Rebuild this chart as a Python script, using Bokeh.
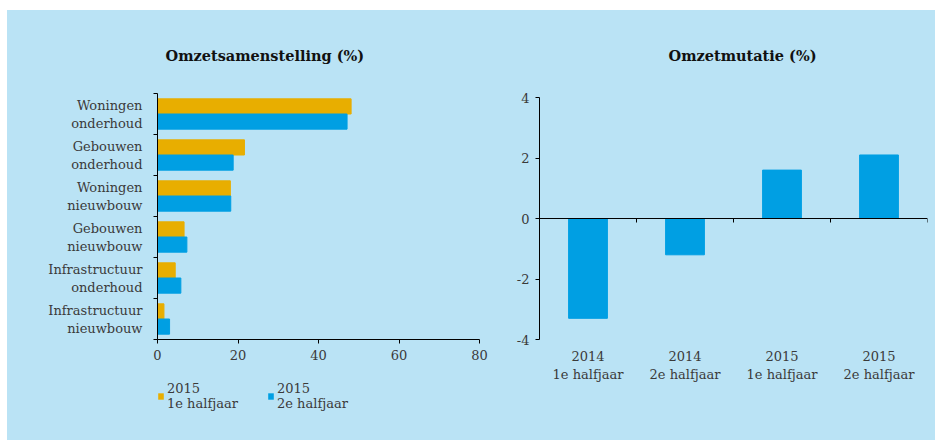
import numpy as np
from bokeh.plotting import figure
from bokeh.layouts import row, column
from bokeh.models import Range1d, FixedTicker, LinearAxis, Legend, LegendItem, ColumnDataSource, Spacer
from bokeh.embed import file_html
from bokeh.resources import INLINE

# ---- data ----
categories = ["Woningen\nonderhoud", "Gebouwen\nonderhoud", "Woningen\nnieuwbouw",
              "Gebouwen\nnieuwbouw", "Infrastructuur\nonderhoud", "Infrastructuur\nnieuwbouw"]
h1_2015 = [48.1, 21.6, 18.1, 6.6, 4.4, 1.6]
h2_2015 = [47.1, 18.8, 18.2, 7.3, 5.8, 3.0]
series_labels = ["2015\n1e halfjaar", "2015\n2e halfjaar"]
x_ticks_left = [0, 20, 40, 60, 80]

periods = ["2014\n1e halfjaar", "2014\n2e halfjaar", "2015\n1e halfjaar", "2015\n2e halfjaar"]
mutatie = [-3.3, -1.2, 1.6, 2.1]
y_ticks_right = [-4, -2, 0, 2, 4]

# ---- styles ----
BG = "#BAE3F5"
ORANGE = "#E8AE00"
BLUE = "#009FE3"
TXT = "#3A3A3A"
FONT = "DejaVu Serif"
FS = "13px"

def style_axis(ax):
    ax.major_label_text_font = FONT
    ax.major_label_text_font_size = FS
    ax.major_label_text_color = TXT
    ax.axis_line_color = "black"
    ax.major_tick_line_color = "black"
    ax.minor_tick_line_color = None
    ax.major_tick_in = 0

def style_title(t):
    t.text_font = FONT
    t.text_font_size = "14.5px"
    t.text_font_style = "bold"
    t.text_color = "#111111"

def base_fig(**kw):
    f = figure(output_backend="svg", toolbar_location=None,
               background_fill_color=None, border_fill_color=BG, **kw)
    f.outline_line_color = None
    f.grid.visible = False
    return f

# ---- left chart ----
n = len(categories)
ypos = n - 0.5 - np.arange(n)
src1 = ColumnDataSource(dict(y1=ypos + 0.185, y2=ypos - 0.185, a=h1_2015, b=h2_2015))

p1 = base_fig(frame_width=322, frame_height=246, x_range=Range1d(0, 80), y_range=Range1d(0, n),
              min_border_left=150, min_border_right=11, min_border_top=83, min_border_bottom=31,
              title="Omzetsamenstelling (%)")
style_title(p1.title)
p1.title.align = "left"
p1.title.offset = 8
p1.title.standoff = 59

p1.hbar(y="y1", left=0, right="a", height=0.37, source=src1, color=ORANGE)
p1.hbar(y="y2", left=0, right="b", height=0.37, source=src1, color=BLUE)

xa = p1.xaxis[0]
style_axis(xa)
xa.ticker = FixedTicker(ticks=x_ticks_left)
xa.major_tick_out = 4
xa.major_label_standoff = 6

ya = p1.yaxis[0]
style_axis(ya)
ya.ticker = FixedTicker(ticks=list(ypos), minor_ticks=list(range(n + 1)))
ya.major_tick_out = 0
ya.minor_tick_line_color = "black"
ya.minor_tick_out = 4
ya.minor_tick_in = 0
ya.major_label_standoff = 11
ya.major_label_overrides = {float(y): c for y, c in zip(ypos, categories)}

# legend strip below the left chart: swatch renderers share the bar styling,
# with zero thickness and out of view so that nothing but the legend is drawn
pleg = base_fig(frame_width=322, frame_height=70, x_range=Range1d(0, 80), y_range=Range1d(100, 101),
                min_border_left=150, min_border_right=11, min_border_top=0, min_border_bottom=0,
                x_axis_location=None, y_axis_location=None)
l1 = pleg.hbar(y="y1", left=0, right="a", height=0, source=src1, fill_color=ORANGE, line_color=None)
l2 = pleg.hbar(y="y2", left=0, right="b", height=0, source=src1, fill_color=BLUE, line_color=None)
legend = Legend(items=[LegendItem(label=series_labels[0], renderers=[l1]),
                       LegendItem(label=series_labels[1], renderers=[l2])],
                orientation="horizontal", location=(0, 29), padding=0, margin=0, spacing=0,
                glyph_width=7, glyph_height=8, label_width=100, label_standoff=3,
                label_text_font=FONT, label_text_font_size=FS, label_text_color=TXT,
                background_fill_alpha=0, border_line_color=None)
pleg.add_layout(legend, "center")

# ---- right chart ----
m = len(periods)
xpos = np.arange(m) + 0.5
src2 = ColumnDataSource(dict(x=xpos, v=mutatie))

p2 = base_fig(frame_width=388, frame_height=242, x_range=Range1d(0, m), y_range=Range1d(-4, 4),
              min_border_left=49, min_border_right=8, min_border_top=87, min_border_bottom=101,
              title="Omzetmutatie (%)")
style_title(p2.title)
p2.title.align = "left"
p2.title.offset = 129
p2.title.standoff = 67

p2.vbar(x="x", bottom=0, top="v", width=0.4, source=src2, color=BLUE)

xb = p2.xaxis[0]
style_axis(xb)
xb.ticker = FixedTicker(ticks=list(xpos))
xb.major_label_overrides = {float(x): c for x, c in zip(xpos, periods)}
xb.major_tick_out = 0
xb.axis_line_color = None
xb.major_tick_line_color = None
xb.major_label_standoff = 9

zero_axis = LinearAxis(fixed_location=0, ticker=FixedTicker(ticks=list(range(m + 1))))
style_axis(zero_axis)
zero_axis.major_tick_out = 4
zero_axis.major_label_text_alpha = 0
zero_axis.major_label_text_font_size = "1px"
p2.add_layout(zero_axis, "below")

yb = p2.yaxis[0]
style_axis(yb)
yb.ticker = FixedTicker(ticks=y_ticks_right)
yb.major_label_overrides = {float(t): str(t) for t in y_ticks_right}
yb.major_tick_out = 4
yb.major_label_standoff = 6

inner = row(column(p1, pleg), p2, styles={"background-color": BG})
layout = column(Spacer(height=10), row(Spacer(width=7), inner))
open("out.html", "w").write(file_html(layout, INLINE))
